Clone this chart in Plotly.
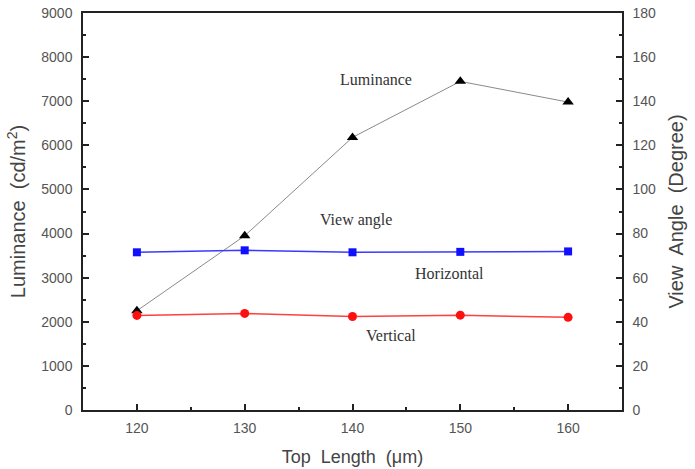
import plotly.graph_objects as go

top_length = [120, 130, 140, 150, 160]
luminance = [2250, 3950, 6180, 7450, 6980]
view_horizontal = [71.5, 72.4, 71.5, 71.7, 71.9]
view_vertical = [42.9, 43.8, 42.4, 43.0, 42.0]

fig = go.Figure()
fig.add_trace(go.Scatter(x=top_length, y=luminance, mode="lines+markers",
                         line=dict(color="#8a8a8a", width=1),
                         marker=dict(symbol="triangle-up", size=10, color="black"),
                         yaxis="y", showlegend=False))
fig.add_trace(go.Scatter(x=top_length, y=view_horizontal, mode="lines+markers",
                         line=dict(color="#3a3aff", width=1.5),
                         marker=dict(symbol="square", size=8, color="#1010ff"),
                         yaxis="y2", showlegend=False))
fig.add_trace(go.Scatter(x=top_length, y=view_vertical, mode="lines+markers",
                         line=dict(color="#ff4040", width=1.5),
                         marker=dict(symbol="circle", size=9, color="#ff1010"),
                         yaxis="y2", showlegend=False))

tickfont = dict(family="Arial, Liberation Sans, sans-serif", size=14, color="#555555")
xtitlefont = dict(family="Arial, Liberation Sans, sans-serif", size=18, color="#444444")
ytitlefont = dict(family="Arial, Liberation Sans, sans-serif", size=20, color="#444444")
annfont = dict(family="Times New Roman, Liberation Serif, serif", size=16, color="#333333")

fig.update_layout(
    width=695, height=469,
    margin=dict(l=83, r=73, t=13, b=59),
    plot_bgcolor="white", paper_bgcolor="white",
    xaxis=dict(range=[115, 165], tickvals=[120, 130, 140, 150, 160],
               ticks="inside", ticklen=6, tickwidth=1.5, tickcolor="#222",
               showline=True, linecolor="#222", linewidth=1.5, mirror=True,
               showgrid=False, zeroline=False, tickfont=tickfont, ticklabelstandoff=4,
               automargin=False,
               minor=dict(dtick=5, tick0=115, ticks="inside", ticklen=3, tickcolor="#222", tickwidth=1.5),
               title=dict(text="Top  Length  (μm)", font=xtitlefont, standoff=16)),
    yaxis=dict(range=[0, 9000], dtick=1000, ticks="inside", ticklen=6, tickwidth=1.5,
               tickcolor="#222", showline=True, linecolor="#222", linewidth=1.5,
               showgrid=False, zeroline=False, tickfont=tickfont, ticklabelstandoff=6,
               automargin=False,
               minor=dict(dtick=500, ticks="inside", ticklen=3, tickcolor="#222", tickwidth=1.5),
               title=dict(text="Luminance  (cd/m<sup>2</sup>)", font=ytitlefont, standoff=10)),
    yaxis2=dict(range=[0, 180], dtick=20, overlaying="y", side="right",
                ticks="inside", ticklen=6, tickwidth=1.5, tickcolor="#222",
                showline=True, linecolor="#222", linewidth=1.5,
                showgrid=False, zeroline=False, tickfont=tickfont, ticklabelstandoff=6,
                automargin=False,
                minor=dict(dtick=10, ticks="inside", ticklen=3, tickcolor="#222", tickwidth=1.5),
                title=dict(text="View  Angle  (Degree)", font=ytitlefont, standoff=14)),
)

annotations = [("Luminance", 142.2, 7500), ("View angle", 140.3, 4300),
               ("Horizontal", 149.0, 3100), ("Vertical", 143.6, 1680)]
for text, x, y in annotations:
    fig.add_annotation(x=x, y=y, xref="x", yref="y", text=text, showarrow=False, font=annfont)

fig.write_html("out.html")
